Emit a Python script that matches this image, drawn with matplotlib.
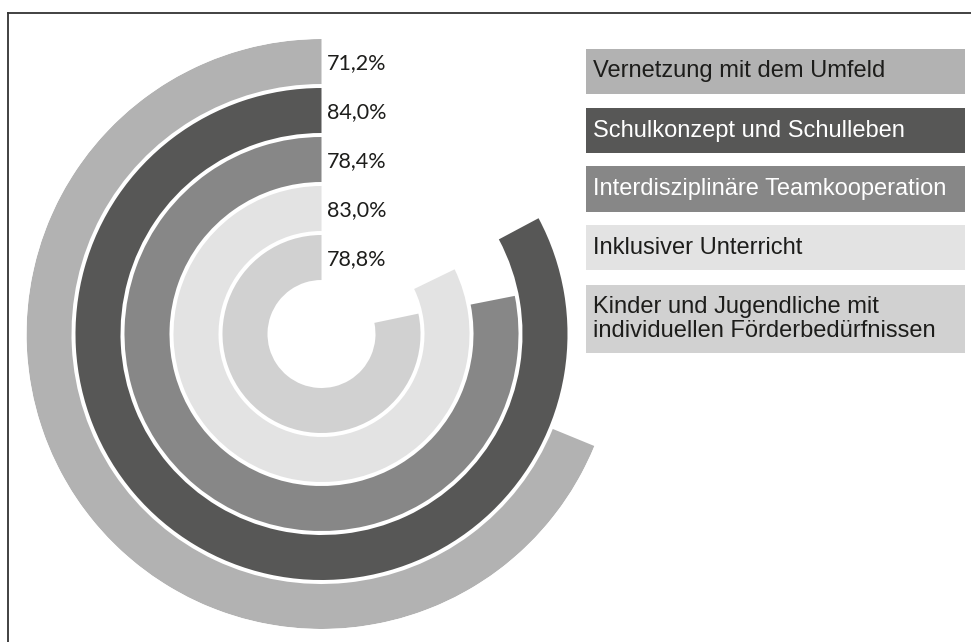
import numpy as np
import matplotlib
matplotlib.use("Agg")
from matplotlib import pyplot as plt
from matplotlib.patches import Rectangle
from matplotlib.lines import Line2D

# data (outer ring first)
categories = [
    "Vernetzung mit dem Umfeld",
    "Schulkonzept und Schulleben",
    "Interdisziplinäre Teamkooperation",
    "Inklusiver Unterricht",
    "Kinder und Jugendliche mit\nindividuellen Förderbedürfnissen",
]
value_labels = ["71,2%", "84,0%", "78,4%", "83,0%", "78,8%"]
# share of the full circle each arc covers, as drawn in the picture
arc_shares = [68.8, 82.8, 78.1, 82.2, 78.3]
colors = ["#b2b2b2", "#575756", "#878787", "#e3e3e3", "#d1d1d1"]
text_colors = ["#1d1d1b", "#ffffff", "#ffffff", "#1d1d1b", "#1d1d1b"]

W, H = 971, 642
fig = plt.figure(figsize=(W / 100, H / 100), dpi=100)

# radial bars
cx, cy, R = 321.5, 334, 295
ax = fig.add_axes([(cx - R) / W, (H - cy - R) / H, 2 * R / W, 2 * R / H],
                  projection="polar")
ax.set_theta_zero_location("N")
ax.set_theta_direction(1)
ax.set_ylim(0, R)
ax.set_axis_off()

pitch, ring = 49, 45
for i, (v, c, lab) in enumerate(zip(arc_shares, colors, value_labels)):
    bottom = R - pitch * i - ring
    ax.bar(0, ring, width=v / 100 * 2 * np.pi, bottom=bottom,
           align="edge", color=c, linewidth=0)
    ax.annotate(lab, xy=(0, bottom + ring / 2), xytext=(4, -1),
                textcoords="offset points", ha="left", va="center",
                fontsize=15.5, family="Lato", color="#1d1d1b")

# legend boxes on the right
lg = fig.add_axes([0, 0, 1, 1])
lg.set_xlim(0, W)
lg.set_ylim(H, 0)
lg.set_axis_off()
box_tops = [49, 108, 166, 225, 285]
box_heights = [45, 45, 46, 45, 68]
for name, c, tc, top, h in zip(categories, colors, text_colors, box_tops, box_heights):
    lg.add_patch(Rectangle((586, top), 379, h, facecolor=c, edgecolor="none"))
    lg.text(593, top + h / 2, name, ha="left", va="center", fontsize=17,
            family="Liberation Sans", color=tc, linespacing=1.1)

# frame lines (top and left)
lg.add_line(Line2D([8, W], [13, 13], color="#333333", lw=1.3))
lg.add_line(Line2D([8, 8], [13, H], color="#333333", lw=1.3))

fig.savefig("out.png", dpi=100)
